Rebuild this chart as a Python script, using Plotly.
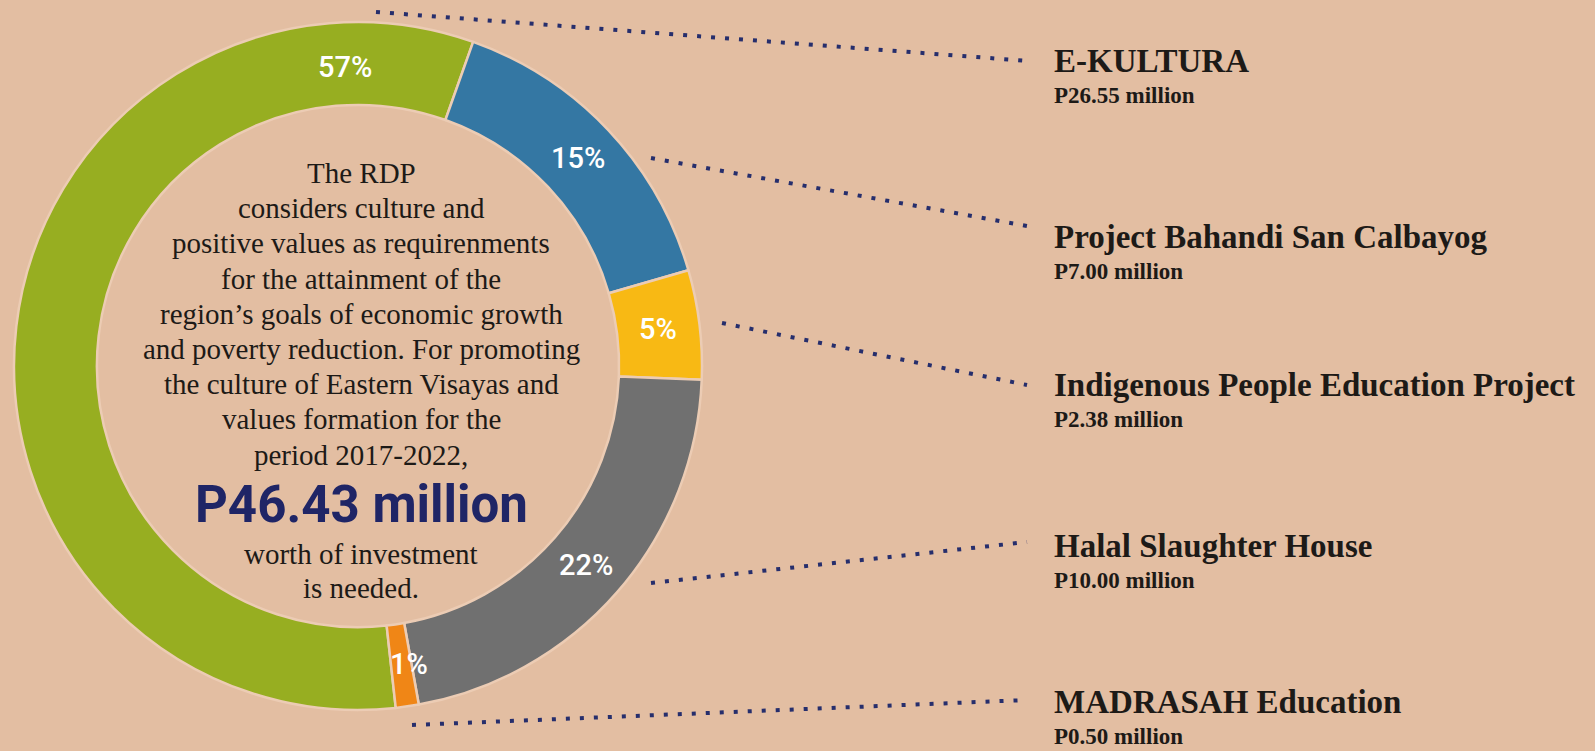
import math
import plotly.graph_objects as go

projects = ["E-KULTURA", "Project Bahandi San Calbayog", "Indigenous People Education Project",
            "Halal Slaughter House", "MADRASAH Education"]
amounts = [26.55, 7.00, 2.38, 10.00, 0.50]
colors = ["#97ae21", "#3477a3", "#f8b914", "#707070", "#f08616"]
total_label = "P46.43 million"
blurb = ["The RDP", "considers culture and", "positive values as requirenments",
         "for the attainment of the", "region’s goals of economic growth",
         "and poverty reduction. For promoting", "the culture of Eastern Visayas and",
         "values formation for the", "period 2017-2022,"]
blurb_end = ["worth of investment", "is needed."]

W, H = 1595, 751
BG = "#e3bea2"
NAVY = "#262e6c"
INK = "#1d1a17"
SERIF = "'Liberation Serif', 'DejaVu Serif', serif"
SANS = "Roboto, 'Open Sans', sans-serif"

# donut geometry in page pixels
CX, CY, R_OUT = 358, 366, 344
HOLE = 0.759
ROT = 173.7


def paper(x, y):
    return x / W, 1 - y / H


def note(x, y, text, font, xanchor="center"):
    px_, py_ = paper(x, y)
    return dict(x=px_, y=py_, xref="paper", yref="paper", showarrow=False,
                xanchor=xanchor, yanchor="middle", text=text, font=font)


fig = go.Figure(go.Pie(
    labels=projects,
    values=amounts,
    marker=dict(colors=colors, line=dict(color="#ecccb4", width=2.5)),
    hole=HOLE,
    sort=False,
    direction="clockwise",
    rotation=ROT,
    textinfo="none",
    hoverinfo="label+value+percent",
    domain=dict(x=[(CX - R_OUT) / W, (CX + R_OUT) / W],
                y=[1 - (CY + R_OUT) / H, 1 - (CY - R_OUT) / H]),
    showlegend=False,
))

annotations = []

# percentage labels inside the ring
total = sum(amounts)
r_lab = R_OUT * (1 + HOLE) / 2
start = ROT
pct_font = dict(family=SANS, size=29, color="white", weight=500)
for i, v in enumerate(amounts):
    span = 360 * v / total
    ang = start + span - 22 if i == 0 else start + span / 2 - (1.5 if v / total < 0.02 else 0)
    start += span
    a = math.radians(ang)
    annotations.append(note(CX + r_lab * math.sin(a), CY - r_lab * math.cos(a) + (3 if i == 0 else 0),
                            f"{round(100 * v / total)}%", pct_font))

# centre text, one line at a time
body_font = dict(family=SERIF, size=29, color=INK)
for i, line in enumerate(blurb):
    annotations.append(note(361, 173 + 35.2 * i, line, body_font))
annotations.append(note(361, 505, f"<b>{total_label}</b>",
                        dict(family=SANS, size=51, color="#1f2566")))
for i, line in enumerate(blurb_end):
    annotations.append(note(361, 554 + 34 * i, line, body_font))

# right-hand labels
name_y = [61, 237, 385, 546, 702]
for name, v, ny in zip(projects, amounts, name_y):
    annotations.append(note(1052, ny, f"<b>{name}</b>",
                            dict(family=SERIF, size=33, color=INK), xanchor="left"))
    annotations.append(note(1052, ny + 34, f"<b>P{v:.2f} million</b>",
                            dict(family=SERIF, size=23, color=INK), xanchor="left"))

# dotted leader lines
leaders = [((376, 12), (1029, 61)), ((651, 158), (1027, 226)), ((722, 323), (1027, 385)),
           ((651, 583), (1027, 542)), ((412, 725), (1027, 700))]
shapes = []
for (x0, y0), (x1, y1) in leaders:
    a0, b0 = paper(x0, y0)
    a1, b1 = paper(x1, y1)
    shapes.append(dict(type="line", xref="paper", yref="paper", x0=a0, y0=b0, x1=a1, y1=b1,
                       line=dict(color=NAVY, width=4, dash="4px,10px")))

fig.update_layout(
    width=W, height=H,
    margin=dict(l=0, r=0, t=0, b=0),
    paper_bgcolor=BG,
    plot_bgcolor=BG,
    annotations=annotations,
    shapes=shapes,
)

fig.write_html("out.html", config={"displayModeBar": False},
               post_script="document.body.style.margin = '0';")
